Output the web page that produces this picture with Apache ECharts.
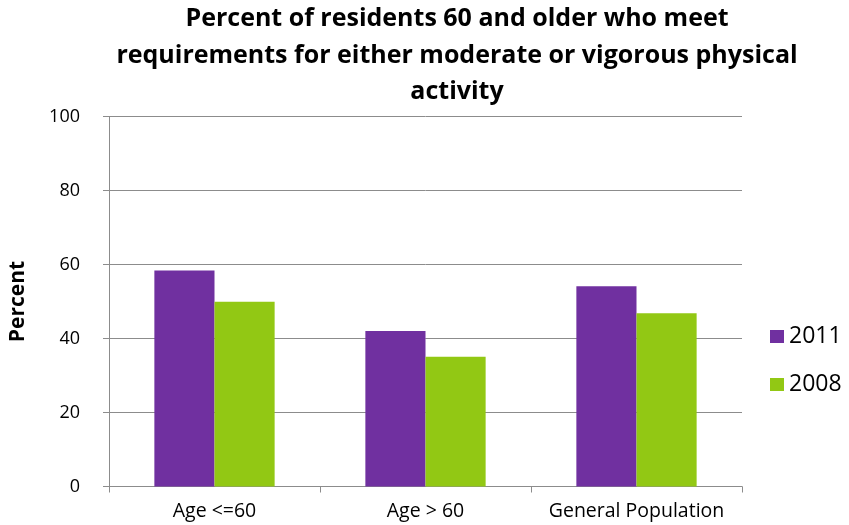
<!DOCTYPE html>
<html>
<head>
<meta charset="utf-8">
<script src="https://cdn.jsdelivr.net/npm/echarts@6/dist/echarts.min.js"></script>
<style>
  html, body { margin: 0; padding: 0; background: #fff; }
  #chart { width: 849px; height: 525px; }
</style>
</head>
<body>
<div id="chart"></div>
<script>
const categories = ['Age <=60', 'Age > 60', 'General Population'];
const values2011 = [58.4, 42.0, 54.1];
const values2008 = [49.9, 35.1, 46.8];
const yTicks = [0, 20, 40, 60, 80, 100];

const FONT = '"Open Sans", Lato, sans-serif';

const chart = echarts.init(document.getElementById('chart'), null, { renderer: 'canvas' });
chart.setOption({
  animation: false,
  backgroundColor: '#ffffff',
  textStyle: { fontFamily: FONT },
  title: {
    text: 'Percent of residents 60 and older who meet\nrequirements for either moderate or vigorous physical\nactivity',
    left: 452,
    textAlign: 'center',
    top: -4,
    textStyle: { fontFamily: FONT, fontSize: 25, fontWeight: 'bold', color: '#000', lineHeight: 36.5 }
  },
  legend: {
    orient: 'vertical',
    left: 765,
    top: 320,
    itemWidth: 14,
    itemHeight: 13,
    itemGap: 25,
    icon: 'rect',
    textStyle: { fontFamily: FONT, fontSize: 23, color: '#000' },
    data: ['2011', '2008']
  },
  grid: { left: 107, right: 107, top: 116.5, bottom: 38.5, containLabel: false },
  xAxis: {
    type: 'category',
    data: categories,
    axisLine: { show: true, lineStyle: { color: '#8c8c8c', width: 1 } },
    axisTick: { show: true, interval: 0, alignWithLabel: false, length: 6, lineStyle: { color: '#8c8c8c' } },
    axisLabel: { interval: 0, hideOverlap: false, fontFamily: FONT, fontSize: 19.5, color: '#000', margin: 15 }
  },
  yAxis: {
    type: 'value',
    min: yTicks[0],
    max: yTicks[yTicks.length - 1],
    interval: 20,
    name: 'Percent',
    nameLocation: 'middle',
    nameGap: 80,
    nameTextStyle: { fontFamily: FONT, fontSize: 21, fontWeight: 'bold', color: '#000' },
    axisLine: { show: true, lineStyle: { color: '#8c8c8c', width: 1 } },
    axisTick: { show: true, length: 6, lineStyle: { color: '#8c8c8c' } },
    axisLabel: { fontFamily: FONT, fontSize: 18, color: '#000', margin: 29 },
    splitLine: { show: true, lineStyle: { color: '#8c8c8c', width: 1 } }
  },
  series: [
    {
      name: '2011',
      type: 'bar',
      data: values2011,
      barGap: '0%',
      barCategoryGap: '43%',
      itemStyle: { color: '#7030a0' }
    },
    {
      name: '2008',
      type: 'bar',
      data: values2008,
      barGap: '0%',
      barCategoryGap: '43%',
      itemStyle: { color: '#92c814' }
    }
  ]
});
</script>
</body>
</html>
